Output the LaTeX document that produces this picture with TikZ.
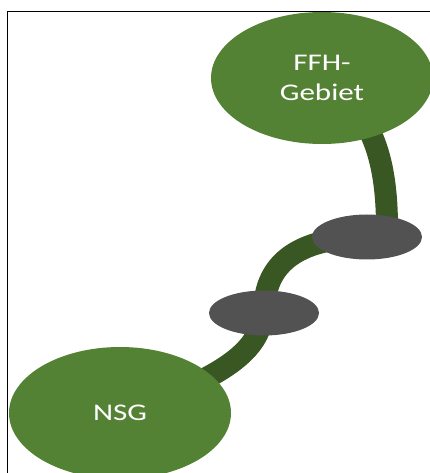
\documentclass[tikz,border=0pt]{standalone}
\usepackage{fontspec}
\setmainfont{Carlito}[FakeStretch=1.3]
\usepackage{tikz}
\usetikzlibrary{shapes.geometric}
\usepackage{xcolor}
\definecolor{areagreen}{RGB}{84,130,53}
\definecolor{bandgreen}{RGB}{56,87,35}
\definecolor{stonegray}{RGB}{82,82,82}
\pgfdeclarelayer{background}
\pgfsetlayers{background,main}

\begin{document}
\begin{tikzpicture} [
		area/.style    = { ellipse, fill=areagreen, text=white, align=center,
			minimum width=5.55cm, minimum height=3.3cm,
			font=\fontsize{17}{21.3}\selectfont },
		stone/.style   = { ellipse, fill=stonegray,
			minimum width=2.75cm, minimum height=1.125cm },
		band/.style    = { draw=bandgreen, line width=0.55cm },
		]
		\clip (0,0) rectangle (10.75,11.825);
		% frame of the picture
		\draw[line width=1.2pt] (0.1875,-1) -- (0.1875,11.5375) -- (11,11.5375);
		% Define nodes
		\node [area] (ffh) at (8.05,9.875) {FFH-\\Gebiet};
		\node [area] (nsg) at (3.0,1.5) {NSG};
		\node [stone] (s1) at (9.175,5.9) {};
		\node [stone] (s2) at (6.6,4.0) {};
		% connect all nodes defined above
		\begin{pgfonlayer}{background}
		\path[band] (ffh.center) .. controls (9.35,9.0) and (9.7,7.8) .. ([xshift=0.5cm] s1.center);
		\path[band] (s1.center) .. controls (7.375,5.875) and (6.6,5.2) .. (s2.center);
		\path[band] (s2.center) .. controls (6.45,3.325) and (6.25,2.575) .. (nsg.center);
		\end{pgfonlayer}
		\end{tikzpicture}
\end{document}
